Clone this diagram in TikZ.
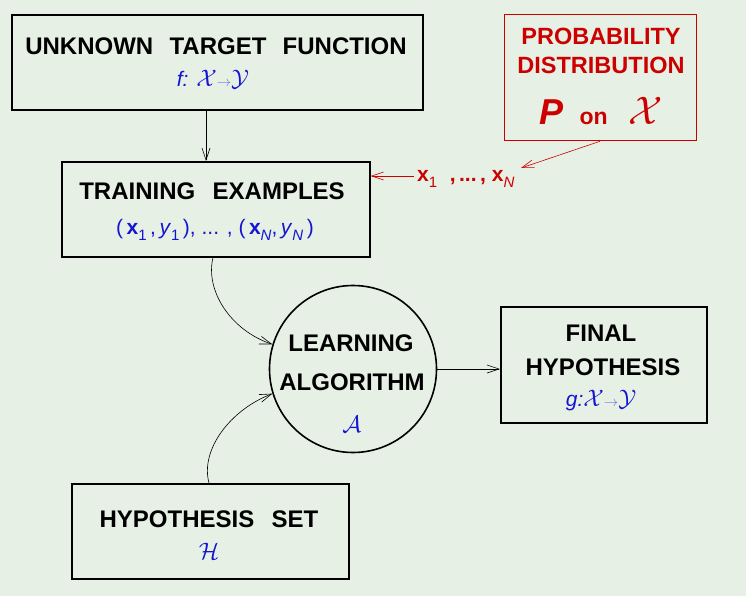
\documentclass[tikz,border=0pt]{standalone}
\usepackage{fontspec}
\usepackage{graphicx}
\setmainfont{Liberation Sans}
\usetikzlibrary{arrows.meta}
\definecolor{bg}{RGB}{230,240,229}
\definecolor{mblue}{RGB}{20,20,210}
\definecolor{mred}{RGB}{205,0,0}
\newcommand{\lsub}[1]{\raisebox{-0.55ex}{\fontsize{15}{15}\selectfont #1}}
\newcommand{\smarrow}{\textcolor{mblue!60}{$\scriptstyle\rightarrow$}}
\begin{document}
\begin{tikzpicture}[x=1pt,y=-1pt,
  box/.style={draw=black,line width=1.6pt,fill=bg},
  lbl/.style={font=\fontsize{24}{28}\selectfont\bfseries,text=black,align=center},
  mtxt/.style={text=mblue,font=\fontsize{21}{24}\selectfont},
  con/.style={line width=0.6pt,-{Straight Barb[length=12pt,width=8pt,line width=0.6pt]}},
]
\fill[bg] (0,0) rectangle (746,596);
\useasboundingbox (0,0) rectangle (746,596);

% boxes
\node[box,minimum width=411,minimum height=95,anchor=north west] (target) at (11,14) {};
\node[box,draw=mred,line width=1.3pt,minimum width=192,minimum height=126,anchor=north west] (prob) at (504,14) {};
\node[box,minimum width=308,minimum height=95,anchor=north west] (train) at (61,161) {};
\node[box,circle,minimum size=167] (learn) at (353,369) {};
\node[box,minimum width=206,minimum height=116,anchor=north west] (final) at (500,306) {};
\node[box,minimum width=277,minimum height=95,anchor=north west] (hset) at (71,483) {};

% texts
\node[lbl] (t1) at (216,46) {UNKNOWN\hspace{0.4em} TARGET\hspace{0.4em} FUNCTION};
\node[mtxt,font=\fontsize{21}{22}\selectfont] (t2) at (213,80) {\textit{f:} \scalebox{1.15}{$\mathcal{X}$}\smarrow\scalebox{1.15}{$\mathcal{Y}$}};

\node[lbl,text=mred,font=\fontsize{23.5}{29}\selectfont\bfseries] (p1) at (601,51) {PROBABILITY\\DISTRIBUTION};
\node[text=mred] (p2) at (601,111) {\fontsize{36}{36}\selectfont\bfseries\itshape P\hspace{0.45em}\fontsize{23}{23}\selectfont\upshape on\hspace{0.9em}\scalebox{1.6}{$\mathcal{X}$}};

\node[lbl] (tr1) at (212,191) {TRAINING\hspace{0.45em} EXAMPLES};
\node[mtxt] (tr2) at (215,230) {(\,\textbf{x}\lsub{1}\,,\,\textit{y}\lsub{1}\,), ... , (\,\textbf{x}\lsub{\textit{N}},\,\textit{y}\lsub{\textit{N}}\,)};

\node[text=mred,font=\fontsize{21}{22}\selectfont\bfseries,anchor=west,inner sep=0] (xs) at (417,179) {x\lsub{\mdseries 1}\hspace{0.6em},\,...\,, x\lsub{\mdseries\itshape N}};

\node[lbl] (l1) at (351,343) {LEARNING};
\node[lbl] (l2) at (352,382) {ALGORITHM};
\node[mtxt] (l3) at (352,424) {\scalebox{1.15}{$\mathcal{A}$}};

\node[lbl] (f1) at (601,333) {FINAL};
\node[lbl] (f2) at (603,367) {HYPOTHESIS};
\node[mtxt,font=\fontsize{21}{22}\selectfont] (f3) at (601,401) {\textit{g:}\scalebox{1.15}{$\mathcal{X}$}\smarrow\scalebox{1.15}{$\mathcal{Y}$}};

\node[lbl] (h1) at (209,519) {HYPOTHESIS\hspace{0.45em} SET};
\node[mtxt] (h2) at (209,551) {\scalebox{1.15}{$\mathcal{H}$}};

% connectors
\draw[con] (target.south -| 206,0) -- (train.north -| 206,0);
\coordinate (xsw) at (414,176);
\draw[con,draw=mred] (xsw) -- (train.east |- xsw);
\coordinate (xe) at (521,168);
\draw[con,draw=mred] (prob.south -| 600,0) -- (xe);
\draw[con] (train.south -| 213,0) .. controls (205,290) and (230,330) .. (learn.163);
\draw[con] (hset.north -| 209,0) .. controls (200,450) and (230,410) .. (learn.197);
\draw[con] (learn.east) -- (final.west |- learn.east);
\end{tikzpicture}
\end{document}
